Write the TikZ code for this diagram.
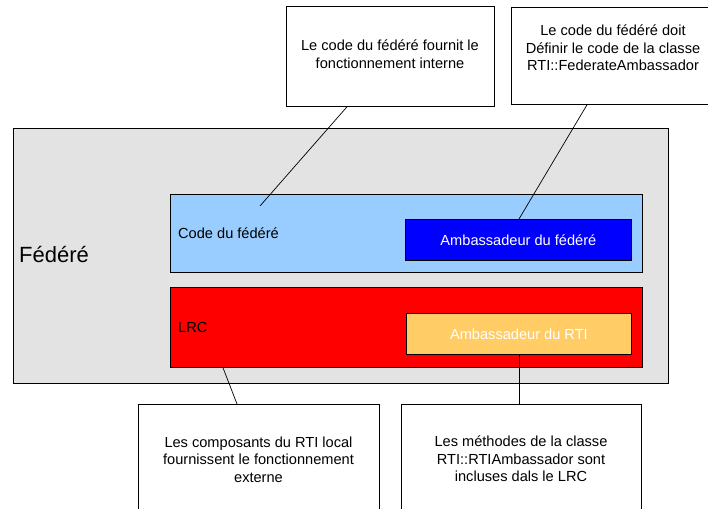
\documentclass[tikz,border=0pt]{standalone}
\usepackage{fontspec}
\setmainfont{Liberation Sans}
\definecolor{fedgray}{HTML}{E3E3E3}
\definecolor{codeblue}{HTML}{99CCFF}
\definecolor{lrcred}{HTML}{FF0000}
\definecolor{ambblue}{HTML}{0000FF}
\definecolor{rtiorange}{HTML}{FFCC66}
\begin{document}
\begin{tikzpicture}[x=1pt,y=-1pt,
  box/.style={draw=black,line width=0.8pt,inner sep=0pt,anchor=north west},
  callout/.style={box,fill=white},
  txt/.style={font=\fontsize{14.6}{17.6}\selectfont,align=center,inner sep=0pt},
  conn/.style={draw=black,line width=0.7pt}]
\useasboundingbox (0,0) rectangle (708,508);
\clip (0,0) rectangle (708,508);
\fill[white] (0,0) rectangle (708,508);
% outer federate
\node[box,fill=fedgray,minimum width=655pt,minimum height=255pt] (fed) at (13,128) {};
\node[anchor=west,inner sep=0pt,font=\fontsize{22}{26}\selectfont] (fedlab) at (19,255) {Fédéré};
% code du federe
\node[box,fill=codeblue,minimum width=472pt,minimum height=78pt] (code) at (170,194) {};
\node[txt,anchor=west] (codelab) at (178,233) {Code du fédéré};
\node[box,fill=ambblue,minimum width=226pt,minimum height=41pt] (ambfed) at (405,219) {};
\node[txt,text=white] (ambfedlab) at (ambfed.center) {Ambassadeur du fédéré};
% LRC
\node[box,fill=lrcred,minimum width=472pt,minimum height=80pt] (lrc) at (170,287) {};
\node[txt,anchor=west] (lrclab) at (178,327) {LRC};
\node[box,fill=rtiorange,minimum width=225pt,minimum height=41pt] (ambrti) at (406,313) {};
\node[txt,text=white] (ambrtilab) at (ambrti.center) {Ambassadeur du RTI};
% callouts
\node[callout,minimum width=208pt,minimum height=100pt] (c1) at (286,6) {};
\node[txt] (c1t) at (390,54) {Le code du fédéré fournit le\\fonctionnement interne};
\node[callout,minimum width=206pt,minimum height=97pt] (c2) at (511,7) {};
\node[txt] (c2t) at (613,48) {Le code du fédéré doit\\Définir le code de la classe\\RTI::FederateAmbassador};
\node[callout,minimum width=241pt,minimum height=120pt] (c3) at (138,404) {};
\node[txt] (c3t) at (258.5,459.5) {Les composants du RTI local\\fournissent le fonctionnement\\externe};
\node[callout,minimum width=240pt,minimum height=120pt] (c4) at (401,404) {};
\node[txt] (c4t) at (521,459) {Les méthodes de la classe\\RTI::RTIAmbassador sont\\incluses dals le LRC};
% connector end points
\coordinate (c1a) at (c1.south -| 347,0);
\coordinate (codea) at (260,206);
\coordinate (c2a) at (c2.south -| 587,0);
\coordinate (ambfeda) at (ambfed.north -| 519,0);
\coordinate (lrca) at (lrc.south -| 223,0);
\coordinate (c3a) at (c3.north -| 237,0);
\coordinate (ambrtia) at (ambrti.south -| 519,0);
\coordinate (c4a) at (c4.north -| 519,0);
\draw[conn] (c1a) -- (codea);
\draw[conn] (c2a) -- (ambfeda);
\draw[conn] (lrca) -- (c3a);
\draw[conn] (ambrtia) -- (c4a);
\end{tikzpicture}
\end{document}
